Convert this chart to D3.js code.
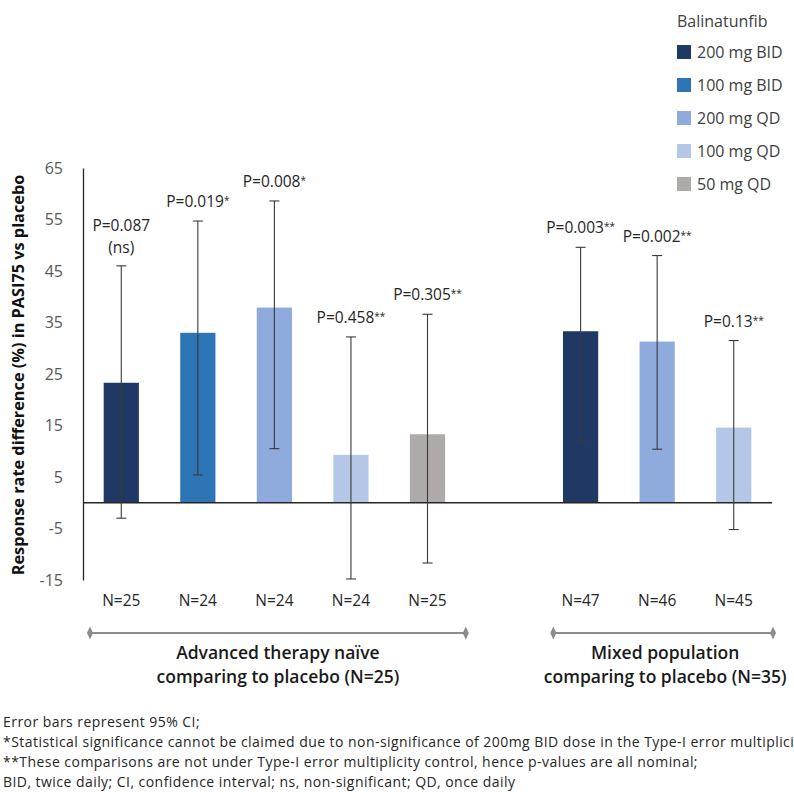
<!DOCTYPE html>
<html>
<head>
<meta charset="utf-8">
<script src="https://cdn.jsdelivr.net/npm/d3@7/dist/d3.min.js"></script>
<style>
  html, body { margin: 0; padding: 0; background: #ffffff; }
  svg { display: block; font-family: "Open Sans", "DejaVu Sans", sans-serif; }
</style>
</head>
<body>
<svg id="chart" width="794" height="792"></svg>
<script>
// ---------------- data ----------------
const doses = ["200 mg BID", "100 mg BID", "200 mg QD", "100 mg QD", "50 mg QD"];
const doseColors = ["#203864", "#2e75b6", "#8faadc", "#b4c7e7", "#aeaaaa"];

const slots = ["a1", "a2", "a3", "a4", "a5", "gap", "m1", "m2", "m3"];
const barSlot = ["a1", "a2", "a3", "a4", "a5", "m1", "m2", "m3"];
const barDose = ["200 mg BID", "100 mg BID", "200 mg QD", "100 mg QD", "50 mg QD",
                 "200 mg BID", "200 mg QD", "100 mg QD"];
const values = [23.3, 33.0, 37.9, 9.3, 13.3, 33.3, 31.3, 14.6];
const ciLow  = [-3.0, 5.4, 10.5, -14.8, -11.7, 12.0, 10.4, -5.2];
const ciHigh = [46.0, 54.7, 58.6, 32.2, 36.6, 49.6, 48.0, 31.5];
const nLabels = ["N=25", "N=24", "N=24", "N=24", "N=25", "N=47", "N=46", "N=45"];
const pLabels = ["P=0.087", "P=0.019", "P=0.008", "P=0.458", "P=0.305", "P=0.003", "P=0.002", "P=0.13"];
const pMarks  = ["(ns)", "*", "*", "**", "**", "**", "**", "**"];

const yTicks = [65, 55, 45, 35, 25, 15, 5, -5, -15];
const yTitle = "Response rate difference (%) in PASI75 vs placebo";
const legendTitle = "Balinatunfib";

const groups = [
  { first: "a1", last: "a5", lines: ["Advanced therapy naïve", "comparing to placebo (N=25)"] },
  { first: "m1", last: "m3", lines: ["Mixed population", "comparing to placebo (N=35)"] }
];

const footnotes = [
  "Error bars represent 95% CI;",
  "*Statistical significance cannot be claimed due to non-significance of 200mg BID dose in the Type-I error multiplicity control;",
  "**These comparisons are not under Type-I error multiplicity control, hence p-values are all nominal;",
  "BID, twice daily; CI, confidence interval; ns, non-significant; QD, once daily"
];

// ---------------- layout ----------------
const svg = d3.select("#chart");
const plot = { left: 83, right: 772, top: 168, bottom: 580 };

const x = d3.scaleBand().domain(slots).range([plot.left, plot.right])
  .paddingInner(0.54).paddingOuter(0.27);
const color = d3.scaleOrdinal().domain(doses).range(doseColors);
const y = d3.scaleLinear().domain([-15, 65]).range([plot.bottom, plot.top]);

const bars = values.map((v, i) => ({
  slot: barSlot[i], dose: barDose[i], v, lo: ciLow[i], hi: ciHigh[i],
  n: nLabels[i], p: pLabels[i], mark: pMarks[i]
}));

// y axis
const yAxis = d3.axisLeft(y).tickValues(yTicks).tickSize(0).tickPadding(20)
  .tickFormat(d => String(d).replace("\u2212", "-"));
const gy = svg.append("g").attr("transform", `translate(${plot.left},0)`).call(yAxis);
gy.select(".domain").attr("stroke", "#262626").attr("stroke-width", 1.3);
gy.selectAll("text").attr("fill", "#595959").attr("font-size", 16)
  .attr("font-family", "Open Sans, sans-serif");

// y title
svg.append("text")
  .attr("transform", `translate(24,${(plot.top + plot.bottom) / 2 + 1}) rotate(-90)`)
  .attr("text-anchor", "middle")
  .attr("font-weight", 700).attr("font-size", 16.3).attr("fill", "#111")
  .text(yTitle);

// bars
svg.append("g").selectAll("rect").data(bars).join("rect")
  .attr("x", d => x(d.slot))
  .attr("width", x.bandwidth())
  .attr("y", d => y(Math.max(0, d.v)))
  .attr("height", d => Math.abs(y(d.v) - y(0)))
  .attr("fill", d => color(d.dose));

// zero line
svg.append("line")
  .attr("x1", plot.left).attr("x2", plot.right)
  .attr("y1", y(0)).attr("y2", y(0))
  .attr("stroke", "#262626").attr("stroke-width", 1.3);

// error bars
const eb = svg.append("g").attr("stroke", "#3a3a3a").attr("stroke-width", 1.1);
bars.forEach(d => {
  const cx = x(d.slot) + x.bandwidth() / 2;
  eb.append("line").attr("x1", cx).attr("x2", cx).attr("y1", y(d.hi)).attr("y2", y(d.lo));
  eb.append("line").attr("x1", cx - 5).attr("x2", cx + 5).attr("y1", y(d.hi)).attr("y2", y(d.hi));
  eb.append("line").attr("x1", cx - 5).attr("x2", cx + 5).attr("y1", y(d.lo)).attr("y2", y(d.lo));
});

// p labels
const pl = svg.append("g").attr("font-size", 15.5).attr("fill", "#262626").attr("text-anchor", "middle");
bars.forEach(d => {
  const cx = x(d.slot) + x.bandwidth() / 2;
  const top = y(d.hi);
  if (d.mark === "(ns)") {
    pl.append("text").attr("x", cx).attr("y", top - 35).text(d.p);
    pl.append("text").attr("x", cx).attr("y", top - 13).text(d.mark);
  } else {
    const t = pl.append("text").attr("x", cx).attr("y", top - 14);
    t.append("tspan").text(d.p);
    t.append("tspan").attr("font-size", 10).attr("dy", -3).text(d.mark);
  }
});

// N labels
svg.append("g").selectAll("text").data(bars).join("text")
  .attr("x", d => x(d.slot) + x.bandwidth() / 2)
  .attr("y", 606)
  .attr("text-anchor", "middle")
  .attr("font-size", 15.5).attr("fill", "#262626")
  .text(d => d.n);

// group brackets
groups.forEach((g, gi) => {
  const half = (x.step() * x.paddingInner()) / 2;
  const x1 = x(g.first) - half + (gi === 0 ? 7 : 11);
  const x2 = x(g.last) + x.bandwidth() + half + (gi === 0 ? 0 : 1);
  const by = 633;
  svg.append("line").attr("x1", x1).attr("x2", x2).attr("y1", by).attr("y2", by)
    .attr("stroke", "#8c8c8c").attr("stroke-width", 2);
  [x1, x2].forEach(px => {
    svg.append("path")
      .attr("d", d3.symbol(d3.symbolDiamond, 50)())
      .attr("transform", `translate(${px},${by}) scale(0.8,1)`)
      .attr("fill", "#8c8c8c");
  });
  const cx = (x1 + x2) / 2 + (gi === 0 ? 0 : 2);
  g.lines.forEach((ln, li) => {
    svg.append("text").attr("x", cx).attr("y", 659 + li * 24)
      .attr("text-anchor", "middle").attr("font-size", 17.5).attr("font-weight", 600)
      .attr("fill", "#1a1a1a").text(ln);
  });
});

// legend
const lg = svg.append("g").attr("transform", "translate(677,0)");
lg.append("text").attr("x", 0).attr("y", 27).attr("font-size", 16).attr("fill", "#404040").text(legendTitle);
doses.forEach((dname, i) => {
  const cy = 52 + i * 33;
  lg.append("rect").attr("x", 0).attr("y", cy - 7).attr("width", 14).attr("height", 14).attr("fill", color(dname));
  lg.append("text").attr("x", 20).attr("y", cy + 5.5).attr("font-size", 16).attr("fill", "#404040").text(dname);
});

// footnotes
const fn = svg.append("g").attr("font-size", 14).attr("fill", "#262626");
footnotes.forEach((t, i) => {
  fn.append("text").attr("x", 3).attr("y", 727 + i * 20).attr("letter-spacing", 0.45).text(t);
});
</script>
</body>
</html>
